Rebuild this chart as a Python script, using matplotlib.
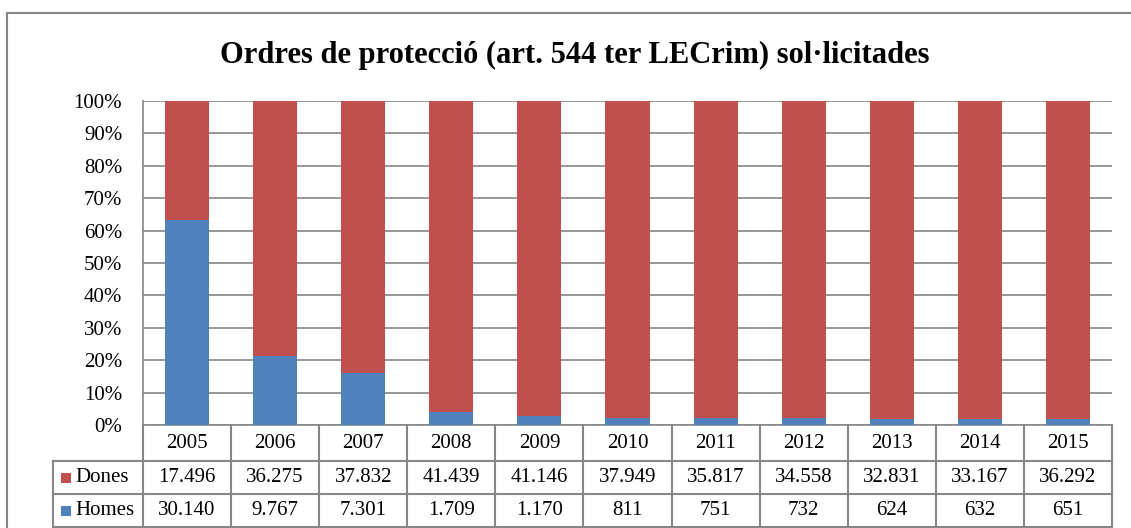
import matplotlib
matplotlib.use("Agg")
import matplotlib.pyplot as plt
from matplotlib.patches import Rectangle
from matplotlib.lines import Line2D
import numpy as np

years = ["2005", "2006", "2007", "2008", "2009", "2010", "2011", "2012", "2013", "2014", "2015"]
dones = [17496, 36275, 37832, 41439, 41146, 37949, 35817, 34558, 32831, 33167, 36292]
homes = [30140, 9767, 7301, 1709, 1170, 811, 751, 732, 624, 632, 651]
dones_labels = ["17.496", "36.275", "37.832", "41.439", "41.146", "37.949", "35.817", "34.558", "32.831", "33.167", "36.292"]
homes_labels = ["30.140", "9.767", "7.301", "1.709", "1.170", "811", "751", "732", "624", "632", "651"]
title = "Ordres de protecció (art. 544 ter LECrim) sol·licitades"

RED = "#C0504D"
BLUE = "#4F81BD"
GRID = "#868686"

plt.rcParams['font.family'] = ['Liberation Serif', 'DejaVu Serif']

W, H = 1131, 528
fig = plt.figure(figsize=(W / 100, H / 100), dpi=100)

# outer chart border
fig.patches.append(Rectangle((7 / W, -0.02), 1.2, 1 - 13 / H + 0.02, transform=fig.transFigure,
                             fill=False, edgecolor=GRID, linewidth=1.5))

left, right, top, bottom = 143, 1112, 101, 425
ax = fig.add_axes([left / W, 1 - bottom / H, (right - left) / W, (bottom - top) / H])

tot = np.array(dones) + np.array(homes)
hp = np.array(homes) / tot * 100
dp = np.array(dones) / tot * 100
x = np.arange(len(years))
ax.bar(x, hp, width=0.5, color=BLUE, zorder=3)
ax.bar(x, dp, width=0.5, bottom=hp, color=RED, zorder=3)

fs = 15
ax.set_xlim(-0.5, len(years) - 0.5)
ax.set_ylim(0, 100)
ax.set_yticks(np.arange(0, 101, 10))
ax.set_yticklabels([f"{v}%" for v in range(0, 101, 10)], fontsize=fs)
ax.tick_params(axis='y', length=0, pad=15)
ax.set_xticks([])
ax.grid(axis='y', color=GRID, linewidth=1.2, zorder=0)
for s in ax.spines.values():
    s.set_color(GRID)
    s.set_linewidth(1.2)
ax.spines['top'].set_visible(False)
ax.spines['right'].set_visible(False)

# data table
ph = bottom - top  # axes height in px
def yax(py):
    return -(py - bottom) / ph
colw_px = (right - left) / len(years)
def xdat(px):
    return -0.5 + (px - left) / colw_px

r0, r1, r2, r3 = bottom, 461, 494, 527
lab_x = 53
tr = ax.get_xaxis_transform()
lc = dict(color=GRID, linewidth=1.5, clip_on=False, transform=tr)
# horizontal lines
ax.add_line(Line2D([xdat(lab_x), len(years) - 0.5], [yax(r1)] * 2, **lc))
ax.add_line(Line2D([xdat(lab_x), len(years) - 0.5], [yax(r2)] * 2, **lc))
ax.add_line(Line2D([xdat(lab_x), len(years) - 0.5], [yax(r3)] * 2, **lc))
# vertical lines
for i in range(len(years) + 1):
    ax.add_line(Line2D([i - 0.5, i - 0.5], [0, yax(r3)], **lc))
ax.add_line(Line2D([xdat(lab_x)] * 2, [yax(r1), yax(r3)], **lc))

for i in range(len(years)):
    ax.text(i, yax((r0 + r1) / 2), years[i], ha='center', va='center', fontsize=fs, transform=tr, clip_on=False)
    ax.text(i, yax((r1 + r2) / 2), dones_labels[i], ha='center', va='center', fontsize=fs, transform=tr, clip_on=False)
    ax.text(i, yax((r2 + r3) / 2), homes_labels[i], ha='center', va='center', fontsize=fs, transform=tr, clip_on=False)

# legend keys in table
for (row_a, row_b, col, name) in [(r1, r2, RED, "Dones"), (r2, r3, BLUE, "Homes")]:
    yc = (row_a + row_b) / 2
    fig.patches.append(Rectangle((61 / W, 1 - (yc + 5) / H), 10 / W, 10 / H, transform=fig.transFigure,
                                 facecolor=col, edgecolor='none'))
    fig.text(75 / W, 1 - yc / H, name, ha='left', va='center', fontsize=fs)

fig.text(575 / W, 1 - 55 / H, title, ha='center', va='center', fontsize=22, fontweight='bold')

fig.savefig("out.png", dpi=100)
